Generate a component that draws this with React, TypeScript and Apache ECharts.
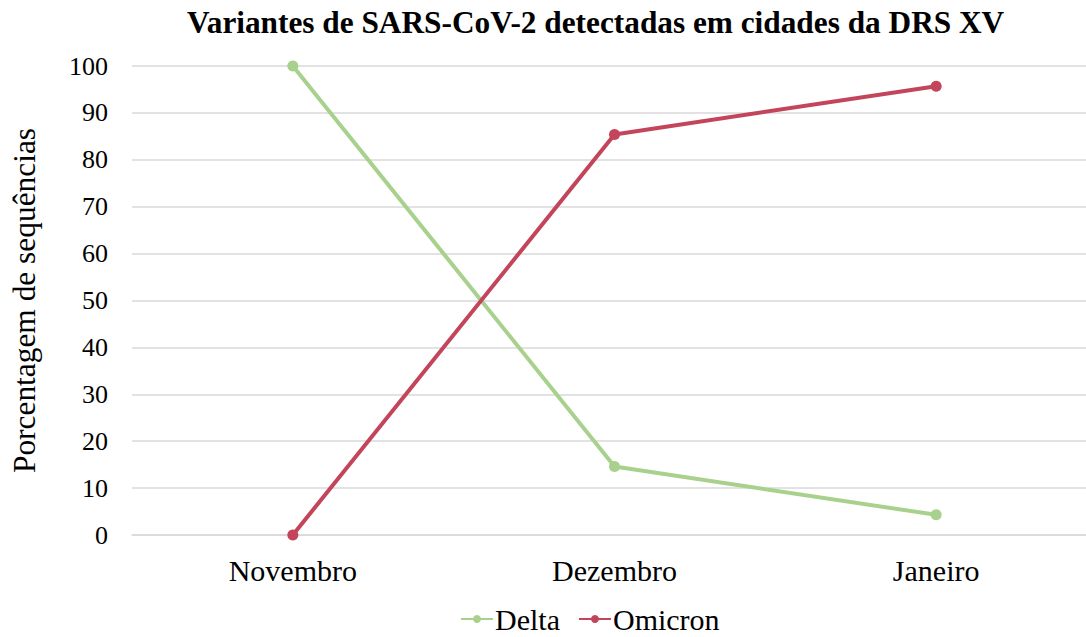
import React, { useEffect, useRef } from "react";
import * as echarts from "echarts";

const categories = ["Novembro", "Dezembro", "Janeiro"];
const deltaValues = [100, 14.6, 4.3];
const omicronValues = [0, 85.4, 95.7];
const yTicks = { min: 0, max: 100, interval: 10 };

const FONT = "'Liberation Serif', 'Times New Roman', serif";

export default function App() {
  const ref = useRef<HTMLDivElement>(null);
  useEffect(() => {
    if (!ref.current) return;
    const chart = echarts.init(ref.current, null, { renderer: "svg" });
    chart.setOption({
      animation: false,
      backgroundColor: "#ffffff",
      title: {
        text: "Variantes de SARS-CoV-2 detectadas em cidades da DRS XV",
        left: 182,
        top: 2,
        textStyle: { fontFamily: FONT, fontSize: 31.3, fontWeight: "bold", color: "#000" },
      },
      legend: {
        left: 455,
        top: 599,
        itemWidth: 32,
        itemHeight: 10,
        itemGap: 18,
        textStyle: { fontFamily: FONT, fontSize: 30, color: "#000", padding: [0, 0, 0, -3] },
        data: ["Delta", "Omicron"],
      },
      grid: { left: 132, top: 66, width: 965, height: 469, containLabel: false },
      xAxis: {
        type: "category",
        data: categories,
        boundaryGap: true,
        axisLine: { show: true, lineStyle: { color: "#D9D9D9", width: 1.5 } },
        axisTick: { show: false },
        axisLabel: { fontFamily: FONT, fontSize: 30, color: "#000", margin: 20 },
      },
      yAxis: {
        type: "value",
        min: yTicks.min,
        max: yTicks.max,
        interval: yTicks.interval,
        name: "Porcentagem de sequências",
        nameLocation: "middle",
        nameRotate: 90,
        nameGap: 92,
        nameTextStyle: { fontFamily: FONT, fontSize: 31.4, color: "#000" },
        axisLine: { show: false },
        axisTick: { show: false },
        splitLine: { lineStyle: { color: "#D9D9D9", width: 1.5 } },
        axisLabel: { fontFamily: FONT, fontSize: 26, color: "#000", margin: 24 },
      },
      series: [
        {
          name: "Delta",
          type: "line",
          data: deltaValues,
          symbol: "circle",
          symbolSize: 11,
          itemStyle: { color: "#A9D18E" },
          lineStyle: { color: "#A9D18E", width: 4 },
        },
        {
          name: "Omicron",
          type: "line",
          data: omicronValues,
          symbol: "circle",
          symbolSize: 11,
          itemStyle: { color: "#C3455B" },
          lineStyle: { color: "#C3455B", width: 4 },
        },
      ],
    });
    return () => chart.dispose();
  }, []);
  return (
    <div
      style={{ position: "absolute", left: 0, top: 0, width: 1086, height: 637, overflow: "hidden" }}
    >
      <div ref={ref} style={{ width: 1100, height: 637 }} />
    </div>
  );
}
